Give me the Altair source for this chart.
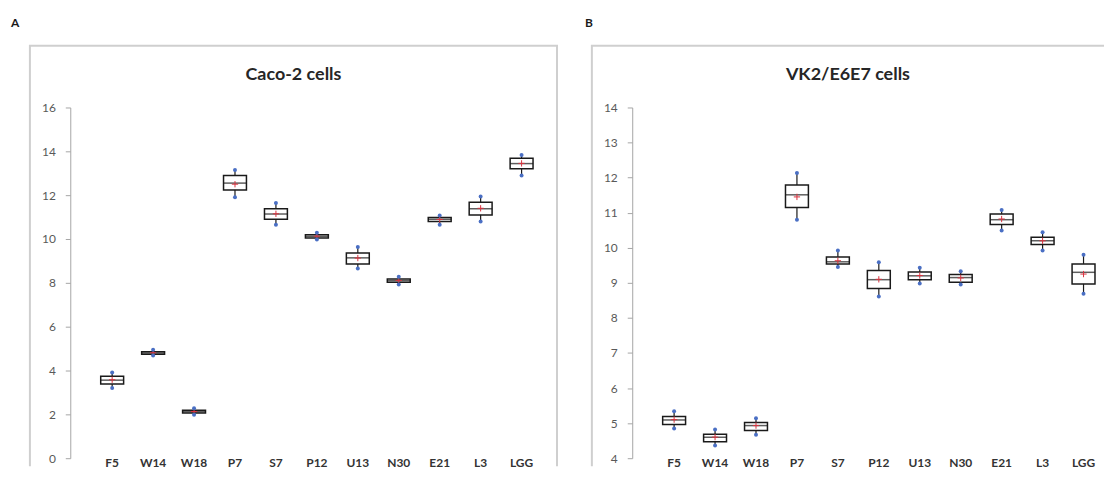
import altair as alt
import pandas as pd

categories = ["F5", "W14", "W18", "P7", "S7", "P12", "U13", "N30", "E21", "L3", "LGG"]

# Panel A: Caco-2 cells
caco_min    = [3.20, 4.68, 1.98, 11.90, 10.65, 9.98, 8.65, 7.92, 10.65, 10.80, 12.90]
caco_q1     = [3.38, 4.74, 2.06, 12.24, 10.90, 10.05, 8.86, 8.03, 10.80, 11.10, 13.20]
caco_median = [3.56, 4.80, 2.12, 12.55, 11.14, 10.12, 9.14, 8.10, 10.90, 11.38, 13.44]
caco_mean   = [3.58, 4.81, 2.13, 12.50, 11.15, 10.13, 9.13, 8.11, 10.89, 11.40, 13.45]
caco_q3     = [3.74, 4.86, 2.19, 12.90, 11.38, 10.19, 9.36, 8.17, 10.98, 11.68, 13.68]
caco_max    = [3.91, 4.95, 2.28, 13.15, 11.64, 10.28, 9.64, 8.28, 11.07, 11.94, 13.83]
caco_ticks  = [0, 2, 4, 6, 8, 10, 12, 14, 16]

# Panel B: VK2/E6E7 cells
vk2_min    = [4.85, 4.36, 4.67, 10.80, 9.45, 8.61, 8.98, 8.95, 10.49, 9.92, 8.69]
vk2_q1     = [4.96, 4.47, 4.79, 11.15, 9.54, 8.84, 9.09, 9.02, 10.66, 10.09, 8.97]
vk2_median = [5.09, 4.60, 4.93, 11.51, 9.60, 9.09, 9.20, 9.15, 10.80, 10.20, 9.30]
vk2_mean   = [5.10, 4.60, 4.93, 11.45, 9.63, 9.10, 9.21, 9.14, 10.82, 10.20, 9.25]
vk2_q3     = [5.19, 4.68, 5.02, 11.79, 9.74, 9.35, 9.31, 9.24, 10.96, 10.30, 9.54]
vk2_max    = [5.34, 4.82, 5.14, 12.13, 9.92, 9.59, 9.43, 9.33, 11.08, 10.44, 9.80]
vk2_ticks  = [4, 5, 6, 7, 8, 9, 10, 11, 12, 13, 14]

FONT = "Lato"
H = 422
WA, WB = 529, 514


def panel(title, letter, letter_dx, width, dash, mins, q1s, meds, means, q3s, maxs, ticks):
    df = pd.DataFrame({"cat": categories, "lo": mins, "q1": q1s, "med": meds,
                       "mean": means, "q3": q3s, "hi": maxs})
    xenc = alt.X("cat:N", sort=categories, title=None,
                 scale=alt.Scale(type="band", range=[62, 514], paddingInner=0, paddingOuter=0),
                 axis=alt.Axis(orient="bottom", domain=False, ticks=False, tickSize=0,
                               labelPadding=0, offset=-9, labelAngle=0, labelFont=FONT,
                               labelFontWeight="bold", labelFontSize=12, labelColor="#333333"))
    yscale = alt.Scale(domain=[ticks[0], ticks[-1]], range=[414, 62], nice=False, zero=False)
    yaxis = alt.Axis(values=ticks, offset=-40.5, tickSize=5, labelPadding=10, grid=False,
                     domainColor="#a6a6a6", tickColor="#a6a6a6", labelColor="#595959",
                     labelFont=FONT, labelFontSize=12, title=None)
    base = alt.Chart(df).encode(x=xenc)
    whisker = base.mark_rule(color="#1a1a1a", strokeWidth=1.2).encode(
        y=alt.Y("lo:Q", scale=yscale, axis=yaxis), y2="hi:Q")
    box = base.mark_bar(size=23, fill="white", stroke="#1a1a1a", strokeWidth=1.5).encode(
        y=alt.Y("q1:Q"), y2="q3:Q")
    median = base.mark_tick(size=23, thickness=1.5, color="#1a1a1a").encode(y="med:Q")
    mean = base.mark_point(shape="M -1 0 L 1 0 M 0 -1 L 0 1", filled=False, stroke="#d9333f",
                           strokeWidth=1, size=40, opacity=1).encode(y="mean:Q")
    lo_pt = base.mark_point(shape="circle", filled=True, color="#4a6fc4", size=16, opacity=1).encode(y="lo:Q")
    hi_pt = base.mark_point(shape="circle", filled=True, color="#4a6fc4", size=16, opacity=1).encode(y="hi:Q")
    layer = alt.layer(whisker, box, median, mean, lo_pt, hi_pt).properties(
        width=width, height=H,
        view=alt.ViewBackground(stroke="#cfcfcf", strokeWidth=2, strokeDash=dash),
        title=alt.TitleParams(text=title, fontSize=18, font=FONT, fontWeight="bold",
                              color="#262626", anchor="middle", offset=-38))
    return alt.vconcat(layer).properties(
        title=alt.TitleParams(text=letter, anchor="start", fontSize=12, font=FONT,
                              fontWeight="bold", color="#1a1a1a", dx=letter_dx, offset=15))


pa = panel("Caco-2 cells", "A", -18, WA, [WA + H, WA, H], caco_min, caco_q1, caco_median,
           caco_mean, caco_q3, caco_max, caco_ticks)
pb = panel("VK2/E6E7 cells", "B", -6, WB, [WB, WB + H, H], vk2_min, vk2_q1, vk2_median,
           vk2_mean, vk2_q3, vk2_max, vk2_ticks)

chart = alt.hconcat(pa, pb, spacing=27).configure(
    padding={"left": 3, "top": 8, "right": 0, "bottom": 0}
)

chart.save("out.html", embed_options={"renderer": "svg", "actions": False})
